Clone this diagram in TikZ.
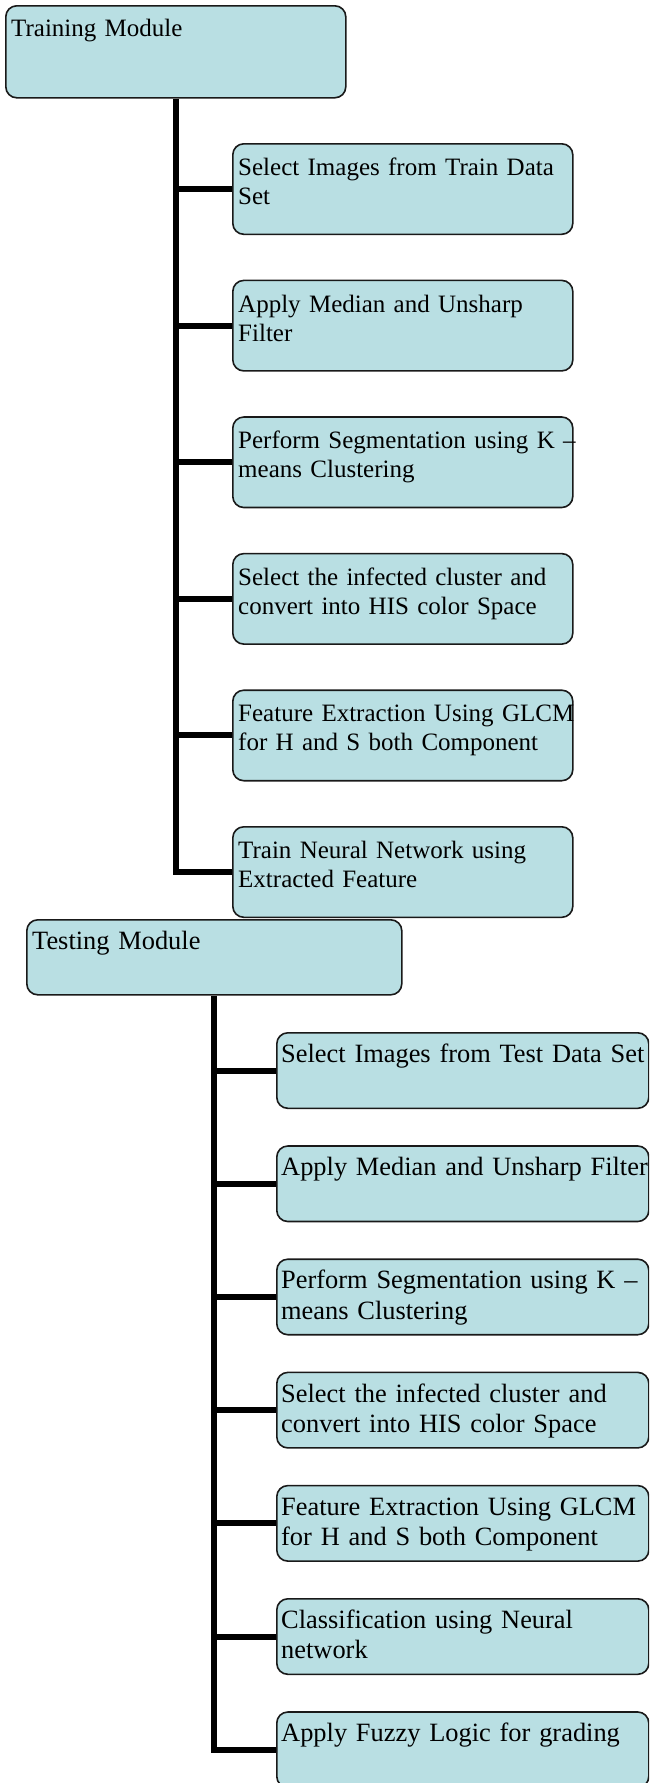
\documentclass[tikz,border=0pt]{standalone}
\usepackage{fontspec}
\setmainfont{Liberation Serif}[WordSpace={0.8,0,0}]
\definecolor{boxfill}{RGB}{185,223,227}
\definecolor{boxline}{RGB}{25,25,25}
\begin{document}
\begin{tikzpicture}[x=1pt,y=-1pt,
  box/.style={draw=boxline, line width=1.6pt, rounded corners=11pt, fill=boxfill,
    inner sep=0pt, anchor=north west},
  trainbox/.style={box, minimum width=340pt, minimum height=90.5pt},
  testbox/.style={box, minimum width=372pt, minimum height=75.5pt},
  lbl/.style={anchor=base west, inner sep=0pt, text width=420pt, align=left},
  lblA/.style={lbl, font=\fontsize{25}{29}\selectfont},
  lblB/.style={lbl, font=\fontsize{26.4}{30.4}\selectfont},
  conn/.style={line width=6pt, line join=miter, draw=black}]
\useasboundingbox (0,0) rectangle (649,1783);
\clip (0,0) rectangle (649,1783);

% Training module
\node[box, minimum width=340pt, minimum height=92pt] (tm) at (5,5) {};
\node[trainbox] (a1) at (232,143) {};
\node[trainbox] (a2) at (232,279.6) {};
\node[trainbox] (a3) at (232,416.2) {};
\node[trainbox] (a4) at (232,552.8) {};
\node[trainbox] (a5) at (232,689.4) {};
\node[trainbox] (a6) at (232,826) {};

% Testing module
\node[box, minimum width=375pt, minimum height=75pt] (te) at (26,919) {};
\node[testbox] (b1) at (276,1032) {};
\node[testbox] (b2) at (276,1145.2) {};
\node[testbox] (b3) at (276,1258.4) {};
\node[testbox] (b4) at (276,1371.6) {};
\node[testbox] (b5) at (276,1484.8) {};
\node[testbox] (b6) at (276,1598) {};
\node[testbox] (b7) at (276,1711.2) {};

% connectors
\draw[conn] (tm.south) |- (a6.west);
\foreach \n in {a1,a2,a3,a4,a5} \draw[conn] (tm.south |- \n.west) -- (\n.west);
\draw[conn] (te.south) |- (b7.west);
\foreach \n in {b1,b2,b3,b4,b5,b6} \draw[conn] (te.south |- \n.west) -- (\n.west);

% labels
\node[lblA, xshift=6pt, yshift=-31pt] (tml) at (tm.north west) {Training Module};
\node[lblA, xshift=6pt, yshift=-32.5pt] (a1l) at (a1.north west) {Select Images from Train Data\\Set};
\node[lblA, xshift=6pt, yshift=-32.5pt] (a2l) at (a2.north west) {Apply Median and Unsharp\\Filter};
\node[lblA, xshift=6pt, yshift=-32.5pt] (a3l) at (a3.north west) {Perform Segmentation using K –\\means Clustering};
\node[lblA, xshift=6pt, yshift=-32.5pt] (a4l) at (a4.north west) {Select the infected cluster and\\convert into HIS color Space};
\node[lblA, xshift=6pt, yshift=-32.5pt] (a5l) at (a5.north west) {Feature Extraction Using GLCM\\for H and S both Component};
\node[lblA, xshift=6pt, yshift=-32.5pt] (a6l) at (a6.north west) {Train Neural Network using\\Extracted Feature};

\node[lblB, xshift=6pt, yshift=-30pt] (tel) at (te.north west) {Testing Module};
\node[lblB, xshift=5pt, yshift=-30.5pt] (b1l) at (b1.north west) {Select Images from Test Data Set};
\node[lblB, xshift=5pt, yshift=-30.5pt] (b2l) at (b2.north west) {Apply Median and Unsharp Filter};
\node[lblB, xshift=5pt, yshift=-30.5pt] (b3l) at (b3.north west) {Perform Segmentation using K –\\means Clustering};
\node[lblB, xshift=5pt, yshift=-30.5pt] (b4l) at (b4.north west) {Select the infected cluster and\\convert into HIS color Space};
\node[lblB, xshift=5pt, yshift=-30.5pt] (b5l) at (b5.north west) {Feature Extraction Using GLCM\\for H and S both Component};
\node[lblB, xshift=5pt, yshift=-30.5pt] (b6l) at (b6.north west) {Classification using Neural\\network};
\node[lblB, xshift=5pt, yshift=-30.5pt] (b7l) at (b7.north west) {Apply Fuzzy Logic for grading};
\end{tikzpicture}
\end{document}
